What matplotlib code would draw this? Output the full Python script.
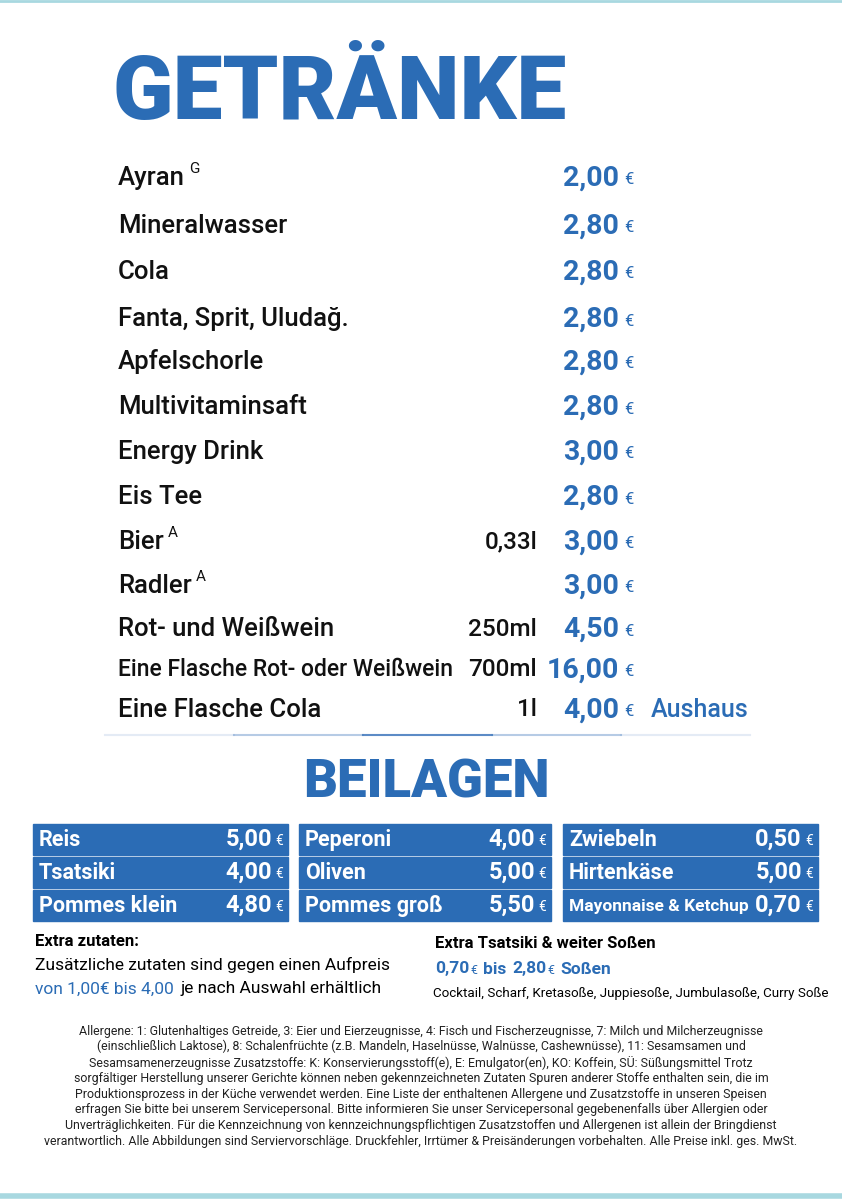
import matplotlib.pyplot as plt

BLUE = '#2b6cb5'
MAIN = ['Roboto', 'DejaVu Sans']

# Getränke
drinks = ['Ayran', 'Mineralwasser', 'Cola', 'Fanta, Sprit, Uludağ.', 'Apfelschorle',
          'Multivitaminsaft', 'Energy Drink', 'Eis Tee', 'Bier', 'Radler',
          'Rot- und Weißwein', 'Eine Flasche Rot- oder Weißwein', 'Eine Flasche Cola']
drink_sup = ['G', '', '', '', '', '', '', '', 'A', 'A', '', '', '']
drink_vol = ['', '', '', '', '', '', '', '', '0,33l', '', '250ml', '700ml', '1l']
drink_price = ['2,00', '2,80', '2,80', '2,80', '2,80', '2,80', '3,00', '2,80',
               '3,00', '3,00', '4,50', '16,00', '4,00']
drink_y = [178, 226, 272, 319, 362, 407, 452, 497, 542, 586, 629, 670, 710]

# Beilagen (3 Spalten x 3 Zeilen)
sides = [[('Reis', '5,00'), ('Tsatsiki', '4,00'), ('Pommes klein', '4,80')],
         [('Peperoni', '4,00'), ('Oliven', '5,00'), ('Pommes groß', '5,50')],
         [('Zwiebeln', '0,50'), ('Hirtenkäse', '5,00'), ('Mayonnaise & Ketchup', '0,70')]]

footer = [
    'Allergene: 1: Glutenhaltiges Getreide, 3: Eier und Eierzeugnisse, 4: Fisch und Fischerzeugnisse, 7: Milch und Milcherzeugnisse',
    '(einschließlich Laktose), 8: Schalenfrüchte (z.B. Mandeln, Haselnüsse, Walnüsse, Cashewnüsse), 11: Sesamsamen und',
    'Sesamsamenerzeugnisse Zusatzstoffe: K: Konservierungsstoff(e), E: Emulgator(en), KO: Koffein, SÜ: Süßungsmittel Trotz',
    'sorgfältiger Herstellung unserer Gerichte können neben gekennzeichneten Zutaten Spuren anderer Stoffe enthalten sein, die im',
    'Produktionsprozess in der Küche verwendet werden. Eine Liste der enthaltenen Allergene und Zusatzstoffe in unseren Speisen',
    'erfragen Sie bitte bei unserem Servicepersonal. Bitte informieren Sie unser Servicepersonal gegebenenfalls über Allergien oder',
    'Unverträglichkeiten. Für die Kennzeichnung von kennzeichnungspflichtigen Zusatzstoffen und Allergenen ist allein der Bringdienst',
    'verantwortlich. Alle Abbildungen sind Serviervorschläge. Druckfehler, Irrtümer & Preisänderungen vorbehalten. Alle Preise inkl. ges. MwSt.',
]

fig = plt.figure(figsize=(8.42, 12), dpi=100)
ax = fig.add_axes([0, 0, 1, 1])
ax.set_xlim(0, 842)
ax.set_ylim(1200, 0)
ax.axis('off')
rend = fig.canvas.get_renderer()

# Rahmenlinien
ax.plot([0, 842], [1, 1], color='#a8d8e0', lw=2)
ax.plot([0, 842], [1196, 1196], color='#a8d8e0', lw=4)

# Titel
ax.text(113, 94, 'GETRÄNKE', family=MAIN, weight='heavy', fontsize=64, color=BLUE,
        va='center', ha='left')

for name, sup, vol, pr, y in zip(drinks, drink_sup, drink_vol, drink_price, drink_y):
    fs = 16.5 if len(name) > 25 else 18.5
    t = ax.text(118, y, name, family=MAIN, weight='medium', fontsize=fs, color='#111111', va='center')
    if sup:
        bb = t.get_window_extent(rend)
        ax.text(bb.x1 + 4, y - 9, sup, family=MAIN, fontsize=11, color='#111111', va='center')
    if vol:
        ax.text(537, y, vol, family=MAIN, weight='medium', fontsize=17.5, color='#111111',
                va='center', ha='right')
    ax.text(619, y, pr, family=MAIN, weight='bold', fontsize=20.5, color=BLUE, va='center', ha='right')
    ax.text(624, y + 2, '€', family=MAIN, fontsize=12, color=BLUE, va='center')
ax.text(651, 710, 'Aushaus', family=MAIN, weight='medium', fontsize=18, color=BLUE, va='center')

# Trennlinie
for i, a in enumerate([0.15, 0.4, 0.9, 0.4, 0.15]):
    ax.plot([105 + i * 129, 105 + (i + 1) * 129], [735, 735], color='#4a7fc0', lw=1.5, alpha=a)

ax.text(426, 783, 'BEILAGEN', family=MAIN, weight='heavy', fontsize=38, color=BLUE,
        va='center', ha='center')

col_x = [33, 299, 563]
col_w = [255, 252, 255]
row_y = [824, 857, 890]
for c, col in enumerate(sides):
    for r, (name, pr) in enumerate(col):
        ax.add_patch(plt.Rectangle((col_x[c], row_y[r]), col_w[c], 31, color=BLUE))
        fs = 12.5 if len(name) > 15 else 15.5
        ax.text(col_x[c] + 6, row_y[r] + 16, name, family=MAIN, weight='bold', fontsize=fs,
                color='white', va='center')
        ax.text(col_x[c] + col_w[c] - 16, row_y[r] + 15, pr, family=MAIN, weight='bold',
                fontsize=17, color='white', va='center', ha='right')
        ax.text(col_x[c] + col_w[c] - 13, row_y[r] + 17, '€', family=MAIN, fontsize=10,
                color='white', va='center')

# Extras
ax.text(35, 941, 'Extra zutaten:', family=MAIN, weight='bold', fontsize=12, va='center')
ax.text(35, 965, 'Zusätzliche zutaten sind gegen einen Aufpreis', family=MAIN, fontsize=12.5, va='center')
ax.text(35, 989, 'von 1,00€ bis 4,00', family=MAIN, fontsize=12.5, color=BLUE, va='center')
ax.text(180, 989, 'je nach Auswahl erhältlich', family=MAIN, fontsize=12.5, va='center')

ax.text(435, 943, 'Extra Tsatsiki & weiter Soßen', family=MAIN, weight='bold', fontsize=12, va='center')
ax.text(435, 969, '0,70', family=MAIN, weight='bold', fontsize=12.5, color=BLUE, va='center')
ax.text(470, 970, '€', family=MAIN, fontsize=9, color=BLUE, va='center')
ax.text(483, 969, 'bis', family=MAIN, weight='bold', fontsize=12.5, color=BLUE, va='center')
ax.text(512, 969, '2,80', family=MAIN, weight='bold', fontsize=12.5, color=BLUE, va='center')
ax.text(547, 970, '€', family=MAIN, fontsize=9, color=BLUE, va='center')
ax.text(560, 969, 'Soßen', family=MAIN, weight='bold', fontsize=12.5, color=BLUE, va='center')
ax.text(433, 993, 'Cocktail, Scharf, Kretasoße, Juppiesoße, Jumbulasoße, Curry Soße',
        family=MAIN, fontsize=9.6, va='center')

for i, line in enumerate(footer):
    ax.text(421, 1031 + i * 15.8, line, family=MAIN, fontsize=8.9, color='#222222',
            va='center', ha='center')

fig.savefig('out.png', dpi=100)
